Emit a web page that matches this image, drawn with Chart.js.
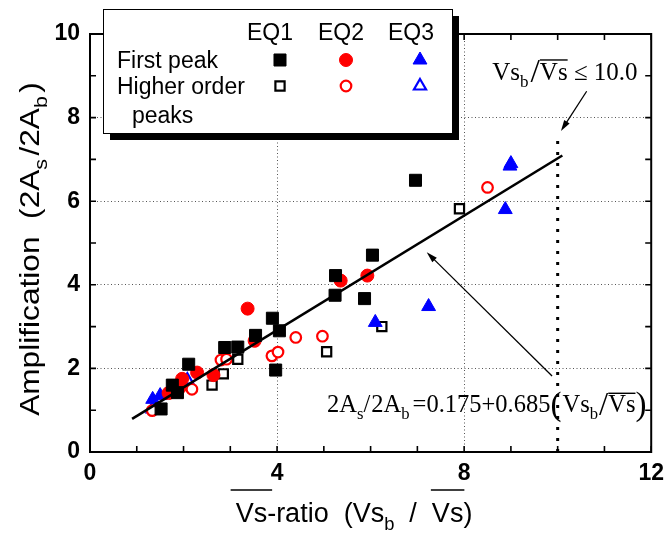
<!DOCTYPE html>
<html>
<head>
<meta charset="utf-8">
<script src="https://cdn.jsdelivr.net/npm/chart.js@4.4.0/dist/chart.umd.min.js"></script>
<style>
  html, body { margin: 0; padding: 0; background: #fff; }
</style>
</head>
<body>
<canvas id="ampChart" width="672" height="534"></canvas>
<script>
// EQ1 - black squares
const eq1FirstX = [1.52, 1.76, 1.87, 2.11, 2.88, 3.16, 3.54, 3.90, 3.97, 4.05, 5.24, 5.25, 5.87, 6.04, 6.96];
const eq1FirstY = [1.03, 1.60, 1.42, 2.10, 2.50, 2.51, 2.79, 3.20, 1.96, 2.90, 3.75, 4.22, 3.67, 4.71, 6.50];
const eq1HigherX = [2.61, 2.85, 3.16, 5.06, 6.24, 7.90];
const eq1HigherY = [1.60, 1.87, 2.22, 2.40, 3.00, 5.82];

// EQ2 - red circles
const eq2FirstX = [1.68, 1.92, 1.97, 2.29, 2.64, 3.37, 3.52, 5.36, 5.93];
const eq2FirstY = [1.41, 1.54, 1.75, 1.90, 1.84, 3.43, 2.66, 4.10, 4.22];
const eq2HigherX = [1.33, 2.18, 2.80, 2.92, 3.89, 4.02, 4.40, 4.97, 8.50];
const eq2HigherY = [0.99, 1.50, 2.20, 2.22, 2.30, 2.39, 2.74, 2.77, 6.33];

// EQ3 - blue triangles
const eq3FirstX = [1.34, 1.50, 6.10, 7.24, 8.88, 8.98, 9.00];
const eq3FirstY = [1.26, 1.35, 3.10, 3.48, 5.80, 6.84, 6.90];
const eq3HigherX = [1.34, 2.08];
const eq3HigherY = [1.03, 1.72];

// regression 2As/2Ab = 0.175 + 0.685 (Vsb/Vs)
const fitIntercept = 0.175;
const fitSlope = 0.685;
const fitRangeX = [0.9, 10.1];

// Vsb/Vs <= 10.0 limit
const limitX = 10.0;
const limitRangeY = [0, 7.6];

const xTickLabels = [0, 4, 8, 12];
const yTickLabels = [0, 2, 4, 6, 8, 10];

const sansFont = "'Liberation Sans', Arial, sans-serif";
const serifFont = "'Liberation Serif', 'Times New Roman', serif";

const seriesDefs = [
    { label: 'EQ1 First peak', xs: eq1FirstX, ys: eq1FirstY, style: 'rect', color: '#000000', filled: true, r: 8.5 },
    { label: 'EQ2 First peak', xs: eq2FirstX, ys: eq2FirstY, style: 'circle', color: '#ff0000', filled: true, r: 6.5 },
    { label: 'EQ3 First peak', xs: eq3FirstX, ys: eq3FirstY, style: 'triangle', color: '#0000ff', filled: true, r: 8 },
    { label: 'EQ1 Higher order peaks', xs: eq1HigherX, ys: eq1HigherY, style: 'rect', color: '#000000', filled: false, r: 6.5 },
    { label: 'EQ2 Higher order peaks', xs: eq2HigherX, ys: eq2HigherY, style: 'circle', color: '#ff0000', filled: false, r: 5.3 },
    { label: 'EQ3 Higher order peaks', xs: eq3HigherX, ys: eq3HigherY, style: 'triangle', color: '#0000ff', filled: false, r: 7 }
];

function toPoints(xs, ys) {
    return xs.map((x, i) => ({ x: x, y: ys[i] }));
}

function markerPath(ctx, style, x, y, r) {
    ctx.beginPath();
    if (style === 'circle') {
        ctx.arc(x, y, r, 0, Math.PI * 2);
    } else if (style === 'rect') {
        const s = Math.SQRT1_2 * r;
        ctx.rect(x - s, y - s, 2 * s, 2 * s);
    } else {
        ctx.moveTo(x, y - r);
        ctx.lineTo(x + 0.866 * r, y + 0.5 * r);
        ctx.lineTo(x - 0.866 * r, y + 0.5 * r);
    }
    ctx.closePath();
}

// text with subscripts, overlines and enlarged glyphs, left aligned at (x, y) baseline
function drawRich(ctx, x, y, parts, size, family, draw) {
    let cx = x;
    for (const p of parts) {
        const fs = p.sub ? size * 0.68 : (p.big ? size * 1.35 : size);
        ctx.font = fs + 'px ' + family;
        const dy = p.sub ? size * 0.28 : (p.big ? size * 0.1 : 0);
        const w = ctx.measureText(p.t).width;
        if (draw) {
            ctx.fillText(p.t, cx, y + dy);
            if (p.over) {
                ctx.save();
                ctx.lineWidth = 1.4;
                ctx.beginPath();
                ctx.moveTo(cx - (p.overPad || 0), y - p.over);
                ctx.lineTo(cx + w + (p.overPad || 0), y - p.over);
                ctx.stroke();
                ctx.restore();
            }
        }
        cx += w + (p.gap || 0);
    }
    return cx - x;
}

function drawArrow(ctx, x1, y1, x2, y2) {
    const ang = Math.atan2(y2 - y1, x2 - x1);
    const len = 11, half = 3.2;
    ctx.save();
    ctx.lineWidth = 1.3;
    ctx.beginPath();
    ctx.moveTo(x1, y1);
    ctx.lineTo(x2 - Math.cos(ang) * len * 0.8, y2 - Math.sin(ang) * len * 0.8);
    ctx.stroke();
    ctx.beginPath();
    ctx.moveTo(x2, y2);
    ctx.lineTo(x2 - Math.cos(ang) * len - Math.sin(ang) * half, y2 - Math.sin(ang) * len + Math.cos(ang) * half);
    ctx.lineTo(x2 - Math.cos(ang) * len + Math.sin(ang) * half, y2 - Math.sin(ang) * len - Math.cos(ang) * half);
    ctx.closePath();
    ctx.fill();
    ctx.restore();
}

// box frame with inward ticks on all four sides
const frameTicks = {
    id: 'frameTicks',
    afterDatasetsDraw(chart) {
        const { ctx, chartArea: a, scales: { x, y } } = chart;
        ctx.save();
        ctx.strokeStyle = '#000';
        ctx.lineWidth = 2;
        ctx.strokeRect(a.left, a.top, a.right - a.left, a.bottom - a.top);
        ctx.lineWidth = 1.6;
        ctx.beginPath();
        for (let v = x.min; v <= x.max; v++) {
            const px = x.getPixelForValue(v);
            ctx.moveTo(px, a.bottom); ctx.lineTo(px, a.bottom - 6);
            ctx.moveTo(px, a.top); ctx.lineTo(px, a.top + 6);
        }
        for (let v = y.min; v <= y.max; v++) {
            const py = y.getPixelForValue(v);
            ctx.moveTo(a.left, py); ctx.lineTo(a.left + 6, py);
            ctx.moveTo(a.right, py); ctx.lineTo(a.right - 6, py);
        }
        ctx.stroke();
        ctx.restore();
    }
};

// axis titles, equation notes and the legend panel
const notes = {
    id: 'notes',
    afterDraw(chart) {
        const { ctx, scales: { x, y } } = chart;
        ctx.save();
        ctx.fillStyle = '#000';
        ctx.strokeStyle = '#000';
        ctx.textBaseline = 'alphabetic';
        ctx.textAlign = 'left';

        // x title
        const xParts = [
            { t: 'Vs', over: 32, overPad: 5 },
            { t: '-ratio  (Vs' },
            { t: 'b', sub: true },
            { t: '  /  ' },
            { t: 'Vs', over: 32, overPad: 1 },
            { t: ')' }
        ];
        const xw = drawRich(ctx, 0, 0, xParts, 27, sansFont, false);
        drawRich(ctx, 354 - xw / 2, 522, xParts, 27, sansFont, true);

        // y title, slightly widened along the text
        const yParts = [
            { t: 'Amplification  (2A' },
            { t: 's', sub: true, gap: 3 },
            { t: '/2A' },
            { t: 'b', sub: true, gap: 3 },
            { t: ')' }
        ];
        const yw = drawRich(ctx, 0, 0, yParts, 28, sansFont, false);
        ctx.save();
        ctx.translate(39, 249);
        ctx.rotate(-Math.PI / 2);
        ctx.scale(1.13, 1);
        drawRich(ctx, -yw / 2, 0, yParts, 28, sansFont, true);
        ctx.restore();

        // limit note and arrow
        const limParts = [
            { t: 'Vs' },
            { t: 'b', sub: true, gap: 2 },
            { t: '/', big: true },
            { t: 'Vs', over: 20, overPad: 0 },
            { t: ' \u2264 10.0' }
        ];
        drawRich(ctx, x.getPixelForValue(8.6), y.getPixelForValue(8.9), limParts, 25, serifFont, true);
        drawArrow(ctx, x.getPixelForValue(10.62), y.getPixelForValue(8.63),
            x.getPixelForValue(10.07), y.getPixelForValue(7.68));

        // regression note and arrow
        const eqParts = [
            { t: '2A' },
            { t: 's', sub: true },
            { t: '/', gap: 1 },
            { t: '2A' },
            { t: 'b', sub: true, gap: 3 },
            { t: '=' + fitIntercept.toFixed(3) + '+' + fitSlope.toFixed(3) },
            { t: '(', big: true, gap: 1 },
            { t: 'Vs' },
            { t: 'b', sub: true, gap: 1 },
            { t: '/', big: true },
            { t: 'Vs', over: 19, overPad: 0 },
            { t: ')', big: true }
        ];
        drawRich(ctx, x.getPixelForValue(5.07), y.getPixelForValue(0.95), eqParts, 24.5, serifFont, true);
        drawArrow(ctx, x.getPixelForValue(9.88), y.getPixelForValue(1.82),
            x.getPixelForValue(7.2), y.getPixelForValue(4.78));

        // legend panel with drop shadow
        const box = { l: 103, t: 9, r: 452, b: 133 };
        ctx.fillStyle = '#000';
        ctx.fillRect(box.l + 7, box.t + 7, box.r - box.l, box.b - box.t);
        ctx.fillStyle = '#fff';
        ctx.fillRect(box.l, box.t, box.r - box.l, box.b - box.t);
        ctx.lineWidth = 1;
        ctx.strokeRect(box.l + 0.5, box.t + 0.5, box.r - box.l, box.b - box.t);

        ctx.fillStyle = '#000';
        ctx.font = '23px ' + sansFont;
        ctx.textAlign = 'center';
        const colX = [270, 341, 411];
        ['EQ1', 'EQ2', 'EQ3'].forEach((t, i) => ctx.fillText(t, colX[i], 40));
        ctx.textAlign = 'left';
        ctx.fillText('First peak', 117, 68);
        ctx.fillText('Higher order', 117, 94);
        ctx.fillText('peaks', 132, 123);

        const markX = [280, 346, 420];
        const rowY = [60, 86];
        seriesDefs.forEach((s, i) => {
            const mx = markX[i % 3];
            const my = rowY[s.filled ? 0 : 1];
            markerPath(ctx, s.style, mx, my, s.r);
            ctx.lineWidth = s.filled ? 1 : 2.2;
            ctx.strokeStyle = s.color;
            ctx.fillStyle = s.filled ? s.color : '#fff';
            ctx.fill();
            ctx.stroke();
        });
        ctx.restore();
    }
};

const datasets = [
    {
        type: 'line',
        label: 'fit',
        data: fitRangeX.map(v => ({ x: v, y: fitIntercept + fitSlope * v })),
        borderColor: '#000',
        borderWidth: 2.6,
        pointRadius: 0,
        order: 0
    },
    {
        type: 'line',
        label: 'limit',
        data: limitRangeY.map(v => ({ x: limitX, y: v })),
        borderColor: '#000',
        borderWidth: 3,
        borderDash: [3, 8],
        pointRadius: 0,
        order: 0
    }
].concat(seriesDefs.map(s => ({
    label: s.label,
    data: toPoints(s.xs, s.ys),
    pointStyle: s.style,
    pointRadius: s.r,
    pointHoverRadius: s.r,
    pointBackgroundColor: s.filled ? s.color : '#fff',
    pointBorderColor: s.color,
    pointBorderWidth: s.filled ? 1 : 2.2,
    showLine: false,
    order: 1
})));

function gridColor(ctx, labels, lo, hi) {
    const v = ctx.tick ? ctx.tick.value : null;
    if (v === null || v === lo || v === hi || labels.indexOf(v) < 0) return 'rgba(0,0,0,0)';
    return '#555';
}

new Chart(document.getElementById('ampChart'), {
    type: 'scatter',
    data: { datasets: datasets },
    options: {
        responsive: false,
        devicePixelRatio: 1,
        animation: false,
        layout: { padding: { top: 34, right: 15, left: 0, bottom: 0 } },
        plugins: { legend: { display: false }, tooltip: { enabled: false } },
        scales: {
            x: {
                type: 'linear',
                min: 0,
                max: 12,
                afterFit: s => { s.height = 82; },
                ticks: {
                    stepSize: 1,
                    autoSkip: false,
                    maxRotation: 0,
                    padding: 8,
                    color: '#000',
                    font: { family: sansFont, size: 23, weight: 'bold' },
                    callback: v => xTickLabels.indexOf(v) >= 0 ? String(v) : ''
                },
                grid: {
                    drawTicks: false,
                    lineWidth: 1,
                    color: c => gridColor(c, xTickLabels, 0, 12)
                },
                border: { display: false, dash: [1, 2.5] }
            },
            y: {
                min: 0,
                max: 10,
                afterFit: s => { s.width = 90; },
                ticks: {
                    stepSize: 1,
                    autoSkip: false,
                    padding: 10,
                    color: '#000',
                    font: { family: sansFont, size: 23, weight: 'bold' },
                    callback: v => yTickLabels.indexOf(v) >= 0 ? String(v) : ''
                },
                grid: {
                    drawTicks: false,
                    lineWidth: 1,
                    color: c => gridColor(c, yTickLabels, 0, 10)
                },
                border: { display: false, dash: [1, 2.5] }
            }
        }
    },
    plugins: [frameTicks, notes]
});
</script>
</body>
</html>
